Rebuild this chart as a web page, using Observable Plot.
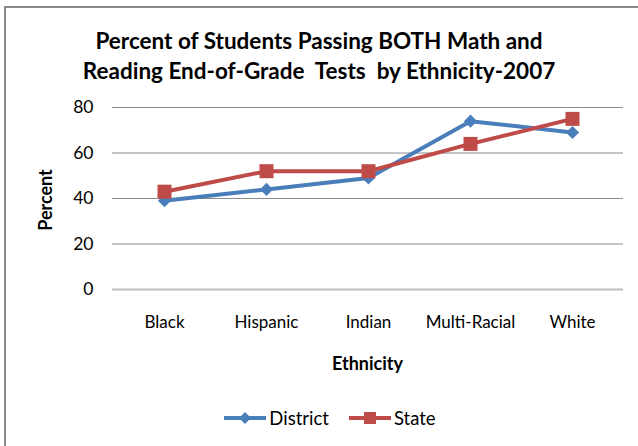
<!DOCTYPE html>
<html>
<head>
<meta charset="utf-8">
<script src="https://cdn.jsdelivr.net/npm/d3@7"></script>
<script src="https://cdn.jsdelivr.net/npm/@observablehq/plot@0.6"></script>
<style>
  html, body { margin: 0; padding: 0; background: #fff; overflow: hidden; }
  #wrap { position: relative; width: 638px; height: 446px; font-family: Lato, "Open Sans", sans-serif; color: #000; }
  #frame { position: absolute; left: 4px; top: 6px; width: 700px; height: 500px; border-left: 2px solid #8a8a8a; border-top: 2px solid #8a8a8a; }
  #chart { position: absolute; left: 0; top: 0; }
  .title { position: absolute; left: 0; width: 638px; text-align: center; font-weight: bold; font-size: 22.5px; line-height: 30px; top: 26px; }
  .xlabel { position: absolute; left: 112px; width: 511px; text-align: center; font-weight: bold; font-size: 18px; line-height: 20px; top: 353px; }
  .ylabel { position: absolute; left: 45px; top: 200px; transform: translate(-50%, -50%) rotate(-90deg); font-weight: bold; font-size: 18px; white-space: nowrap; }
  .legend { position: absolute; top: 407px; left: 11px; width: 638px; display: flex; justify-content: center; align-items: center; gap: 20px; font-size: 18.5px; }
  .legend span.item { display: inline-flex; align-items: center; gap: 3px; }
</style>
</head>
<body>
<div id="wrap">
  <div id="frame"></div>
  <div id="chart"></div>
  <div class="title">Percent of Students Passing BOTH Math and<br>Reading End-of-Grade&nbsp; Tests&nbsp; by Ethnicity-2007</div>
  <div class="ylabel">Percent</div>
  <div class="xlabel">Ethnicity</div>
  <div class="legend" id="legend"></div>
</div>
<script>
// Ethnic groups along the x axis
const categories = ["Black", "Hispanic", "Indian", "Multi-Racial", "White"];
// Percent passing both tests, per group
const districtValues = [39, 44, 49, 74, 69];
const stateValues = [43, 52, 52, 64, 75];
// Series names and y ticks
const seriesNames = ["District", "State"];
const yTicks = [0, 20, 40, 60, 80];

const colors = ["#4a7ebb", "#be4b48"];
const symbols = ["diamond2", "square"];

const rows = [
  ...categories.map((c, i) => ({cat: c, value: districtValues[i], series: seriesNames[0]})),
  ...categories.map((c, i) => ({cat: c, value: stateValues[i], series: seriesNames[1]}))
];

const chart = Plot.plot({
  width: 638,
  height: 446,
  marginTop: 107,
  marginBottom: 157,
  marginLeft: 112,
  marginRight: 15,
  style: {fontFamily: "Lato, 'Open Sans', sans-serif", fontSize: "17px", color: "#000", background: "transparent"},
  x: {type: "point", domain: categories, padding: 0.5},
  y: {domain: [0, 80]},
  color: {domain: seriesNames, range: colors},
  symbol: {domain: seriesNames, range: symbols},
  marks: [
    Plot.gridY(yTicks.filter(d => d > 0), {stroke: "#8a8a8a", strokeOpacity: 1, strokeWidth: 1}),
    Plot.ruleY([0], {stroke: "#bdbdbd", strokeWidth: 2}),
    Plot.axisY(yTicks, {tickSize: 0, tickPadding: 19, label: null, fontSize: 17.5}),
    Plot.axisX({tickSize: 0, tickPadding: 26, label: null, fontSize: 17}),
    ...seriesNames.map((s, k) => [
      Plot.line(rows.filter(d => d.series === s), {x: "cat", y: "value", stroke: "series", strokeWidth: 4, curve: "linear"}),
      Plot.dot(rows.filter(d => d.series === s), {x: "cat", y: "value", fill: "series", symbol: "series", r: s === "State" ? 7.9 : 5.9, stroke: "none"})
    ]).flat()
  ]
});
document.getElementById("chart").appendChild(chart);

// Legend built from the same series, colours and symbols
const legend = document.getElementById("legend");
seriesNames.forEach((s, k) => {
  const item = document.createElement("span");
  item.className = "item";
  const sym = k === 0
    ? `<polygon points="21,2 27,8 21,14 15,8" fill="${colors[k]}"/>`
    : `<rect x="15" y="2" width="12" height="12" fill="${colors[k]}"/>`;
  item.innerHTML = `<svg width="42" height="16"><line x1="0" y1="8" x2="42" y2="8" stroke="${colors[k]}" stroke-width="4"/>${sym}</svg><span>${s}</span>`;
  legend.appendChild(item);
});
</script>
</body>
</html>
